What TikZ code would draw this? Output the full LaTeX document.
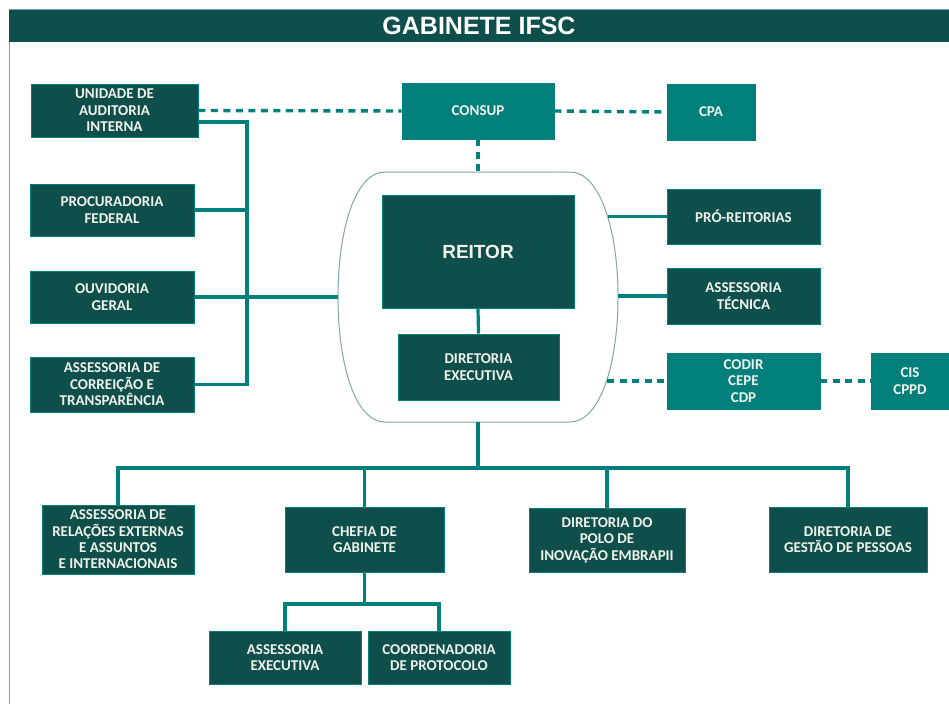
\documentclass[tikz,border=0pt]{standalone}
\usepackage{fontspec}
\setmainfont{Carlito}
\newfontfamily\arialfont{Liberation Sans}
\definecolor{gabdark}{HTML}{0F4F4B}
\definecolor{gabteal}{HTML}{007F7B}
\definecolor{gabline}{HTML}{00807C}
\definecolor{gabtext}{HTML}{F0F2EA}
\definecolor{gabblue}{HTML}{6FA0DC}
\definecolor{gabedge}{HTML}{7FA8A4}
\begin{document}
\begin{tikzpicture}[x=1pt,y=-1pt,line width=3.2pt,
    darkbox/.style={draw=gabline,line width=.6pt,fill=gabdark,text=gabtext,
      inner sep=0pt,align=center,font=\fontsize{15}{16.4}\selectfont\bfseries},
    tealbox/.style={darkbox,fill=gabteal,draw=gabteal},
    link/.style={draw=gabline,line width=3.2pt},
    dotlink/.style={draw=gabline,line width=3.4pt,dash pattern=on 7pt off 5.5pt}]

      \useasboundingbox (0,0) rectangle (949,704);

      % frame and title
      \draw[gabblue,line width=1.6pt] (9.5,704) -- (9.5,10) -- (949,10);
      \path (479,26) node[fill=gabdark,minimum width=940pt,minimum height=32pt,inner sep=0pt,
        text=white,font=\arialfont\bfseries\fontsize{25}{28}\selectfont] (title) {GABINETE IFSC};

      % left column
      \path (114.5,110.5) node[darkbox,minimum width=167pt,minimum height=53pt] (uai) {UNIDADE DE\\AUDITORIA\\INTERNA};
      \path (112,210) node[darkbox,minimum width=164pt,minimum height=52pt] (proc) {PROCURADORIA\\FEDERAL};
      \path (112,297) node[darkbox,minimum width=164pt,minimum height=52pt] (ouv) {OUVIDORIA\\GERAL};
      \path (112,384.5) node[darkbox,minimum width=164pt,minimum height=55pt] (acorr) {ASSESSORIA DE\\CORREIÇÃO E\\TRANSPARÊNCIA};

      % councils
      \path (478,111) node[tealbox,minimum width=152pt,minimum height=56pt] (consup) {CONSUP};
      \path (711,112) node[tealbox,minimum width=88pt,minimum height=56pt] (cpa) {CPA};

      % rectorate
      \path (478,251.5) node[darkbox,minimum width=192pt,minimum height=113pt,
        font=\arialfont\bfseries\fontsize{19}{22}\selectfont] (reitor) {REITOR};
      \path (478.5,367) node[darkbox,minimum width=161pt,minimum height=66pt] (direx) {DIRETORIA\\EXECUTIVA};

      % right column
      \path (743.5,216.5) node[darkbox,minimum width=153pt,minimum height=55pt] (pro) {PRÓ-REITORIAS};
      \path (743.5,296) node[darkbox,minimum width=153pt,minimum height=56pt] (atec) {ASSESSORIA\\TÉCNICA};
      \path (743.5,381) node[tealbox,minimum width=153pt,minimum height=56pt] (codir) {CODIR\\CEPE\\CDP};
      \path (910,381) node[tealbox,minimum width=78pt,minimum height=56pt] (cis) {CIS\\CPPD};

      % lower level
      \path (118,539.5) node[darkbox,minimum width=152pt,minimum height=69pt] (rel) {ASSESSORIA DE\\RELAÇÕES EXTERNAS\\E ASSUNTOS\\E INTERNACIONAIS};
      \path (364.5,539.5) node[darkbox,minimum width=159pt,minimum height=65pt] (chefia) {CHEFIA DE\\GABINETE};
      \path (607,540) node[darkbox,minimum width=156pt,minimum height=64pt] (polo) {DIRETORIA DO\\POLO DE\\INOVAÇÃO EMBRAPII};
      \path (848,539.5) node[darkbox,minimum width=158pt,minimum height=65pt] (gestao) {DIRETORIA DE\\GESTÃO DE PESSOAS};
      \path (285,657.5) node[darkbox,minimum width=152pt,minimum height=53pt] (aexec) {ASSESSORIA\\EXECUTIVA};
      \path (439,657.5) node[darkbox,minimum width=142pt,minimum height=53pt] (cprot) {COORDENADORIA\\DE PROTOCOLO};

      % outline round the rectorate
      \draw[gabedge,line width=1pt] (385,172) -- (570,172)
        .. controls (600,172) and (618,230) .. (618,297)
        .. controls (618,364) and (600,422) .. (570,422) -- (385,422)
        .. controls (355,422) and (338,364) .. (338,297)
        .. controls (338,230) and (355,172) .. (385,172) -- cycle;
      \coordinate (rgT) at (478,172);
      \coordinate (rgB) at (478,422);
      \coordinate (rgW) at (338,297);
      \coordinate (rgP) at (607.6,216.5);
      \coordinate (rgA) at (617.5,296);
      \coordinate (rgC) at (607,381);

      % left bus
      \coordinate (lbT) at (247,122);
      \coordinate (lbB) at (247,384.5);
      \draw[link] (uai.east |- lbT) -- (lbT) -- (lbB) -- (acorr.east);
      \draw[link] (proc.east) -- (proc.east -| lbT);
      \draw[link] (ouv.east) -- (rgW);

      % dashed links
      \draw[dotlink] (uai.east) -- (consup.west);
      \draw[dotlink] (consup.east) -- (cpa.west);
      \draw[dotlink] (consup.south) -- (rgT);
      \draw[dotlink] (rgC) -- (codir.west);
      \draw[dotlink] (codir.east) -- (cis.west);

      % solid links
      \draw[link] (reitor.south) -- (direx.north);
      \draw[link] (rgP) -- (pro.west);
      \draw[link] (rgA) -- (atec.west);

      \coordinate (bus) at (478,468);
      \draw[link] (rgB) -- (bus);
      \foreach \n in {rel,chefia,polo,gestao}
        \draw[link] (bus) -| (\n.north);

      \coordinate (sbus) at (364.5,604);
      \draw[link] (chefia.south) -- (sbus);
      \draw[link] (sbus) -| (aexec.north);
      \draw[link] (sbus) -| (cprot.north);
   \end{tikzpicture}
\end{document}
